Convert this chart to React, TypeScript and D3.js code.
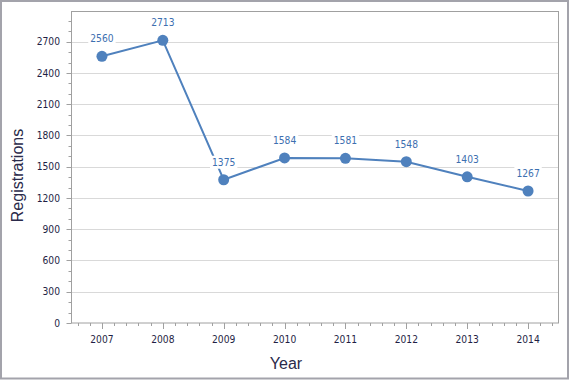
import React from "react";
import * as d3 from "d3";

const years = ["2007", "2008", "2009", "2010", "2011", "2012", "2013", "2014"];
const registrations = [2560, 2713, 1375, 1584, 1581, 1548, 1403, 1267];
const yMajorTicks = [0, 300, 600, 900, 1200, 1500, 1800, 2100, 2400, 2700];
const yMinorTicks = d3.range(0, 3000, 100);

const W = 570;
const H = 380;
const left = 71.5;
const right = 558.5;
const top = 12;
const bottom = 323;

const lineColor = "#4f81bd";
const labelColor = "#3d6fb0";
const tickColor = "#1f1f45";
const axisColor = "#a0a0a0";
const gridColor = "#d9d9d9";
const labelFont = "'DejaVu Sans Condensed', 'DejaVu Sans', sans-serif";

export default function App() {
  const x = d3.scaleBand<string>().domain(years).range([left, right]).padding(0);
  const cx = (d: string) => (x(d) as number) + x.bandwidth() / 2;
  const y = d3.scaleLinear().domain([0, 2985]).range([bottom, top]);

  const line = d3
    .line<number>()
    .x((_, i) => cx(years[i]))
    .y((d) => y(d));

  const step = x.bandwidth() / 5;
  const xMinor: number[] = [];
  for (let k = -10; k <= 60; k++) {
    const p = cx(years[0]) + k * step;
    if (p > left + 1 && p < right - 1 && k % 5 !== 0) xMinor.push(p);
  }

  return (
    <div style={{ position: "absolute", left: 0, top: 0 }}>
      <svg width={W} height={H} style={{ display: "block" }}>
        <rect x={0} y={0} width={W} height={H} fill="#fff" />
        <rect x={1} y={1} width={567} height={377.5} fill="none" stroke="#a3a3ab" strokeWidth={2} />
        {/* gridlines */}
        {yMajorTicks.filter((t) => t > 0).map((t) => (
          <line key={"g" + t} x1={left} x2={right} y1={Math.round(y(t)) + 0.5} y2={Math.round(y(t)) + 0.5} stroke={gridColor} strokeWidth={1} />
        ))}
        {/* plot border */}
        <rect x={left} y={top - 0.5} width={right - left} height={bottom - top + 0.5} fill="none" stroke={axisColor} strokeWidth={1} />
        {/* y ticks */}
        {yMinorTicks.map((t) => {
          const major = t % 300 === 0;
          const yy = Math.round(y(t)) + 0.5;
          return <line key={"yt" + t} x1={left - (major ? 5 : 3)} x2={left} y1={yy} y2={yy} stroke={axisColor} strokeWidth={1} />;
        })}
        {yMajorTicks.map((t) => (
          <text key={"yl" + t} x={60} y={y(t)} dy="0.35em" textAnchor="end" fontFamily={labelFont} fontSize={10.2} fill={tickColor}>
            {t}
          </text>
        ))}
        {/* x ticks */}
        {xMinor.map((p, i) => (
          <line key={"xm" + i} x1={Math.round(p) + 0.5} x2={Math.round(p) + 0.5} y1={bottom} y2={bottom + 3} stroke={axisColor} strokeWidth={1} />
        ))}
        {years.map((yr) => (
          <line key={"xt" + yr} x1={Math.round(cx(yr)) + 0.5} x2={Math.round(cx(yr)) + 0.5} y1={bottom} y2={bottom + 6} stroke={axisColor} strokeWidth={1} />
        ))}
        {years.map((yr) => (
          <text key={"xl" + yr} x={cx(yr)} y={343} textAnchor="middle" fontFamily={labelFont} fontSize={10.2} fill={tickColor}>
            {yr}
          </text>
        ))}
        {/* axis titles */}
        <text x={286} y={369} textAnchor="middle" fontFamily="'Liberation Sans', Arial, sans-serif" fontSize={16} fill="#2a2a4a">
          Year
        </text>
        <text transform="translate(23,175.5) rotate(-90)" textAnchor="middle" fontFamily="'Liberation Sans', Arial, sans-serif" fontSize={16} fill="#2a2a4a">
          Registrations
        </text>
        {/* series */}
        <path d={line(registrations) || ""} fill="none" stroke={lineColor} strokeWidth={2} />
        {registrations.map((v, i) => (
          <circle key={"c" + i} cx={cx(years[i])} cy={y(v)} r={5.5} fill={lineColor} />
        ))}
        {registrations.map((v, i) => {
          const s = String(v);
          const w = s.length * 5.85 + 4;
          const px = cx(years[i]);
          const by = y(v) - 14;
          return (
            <g key={"l" + i}>
              <rect x={px - w / 2} y={by - 10} width={w} height={13} fill="#fff" />
              <text x={px} y={by} textAnchor="middle" fontFamily={labelFont} fontSize={10.2} fill={labelColor}>
                {s}
              </text>
            </g>
          );
        })}
      </svg>
    </div>
  );
}
